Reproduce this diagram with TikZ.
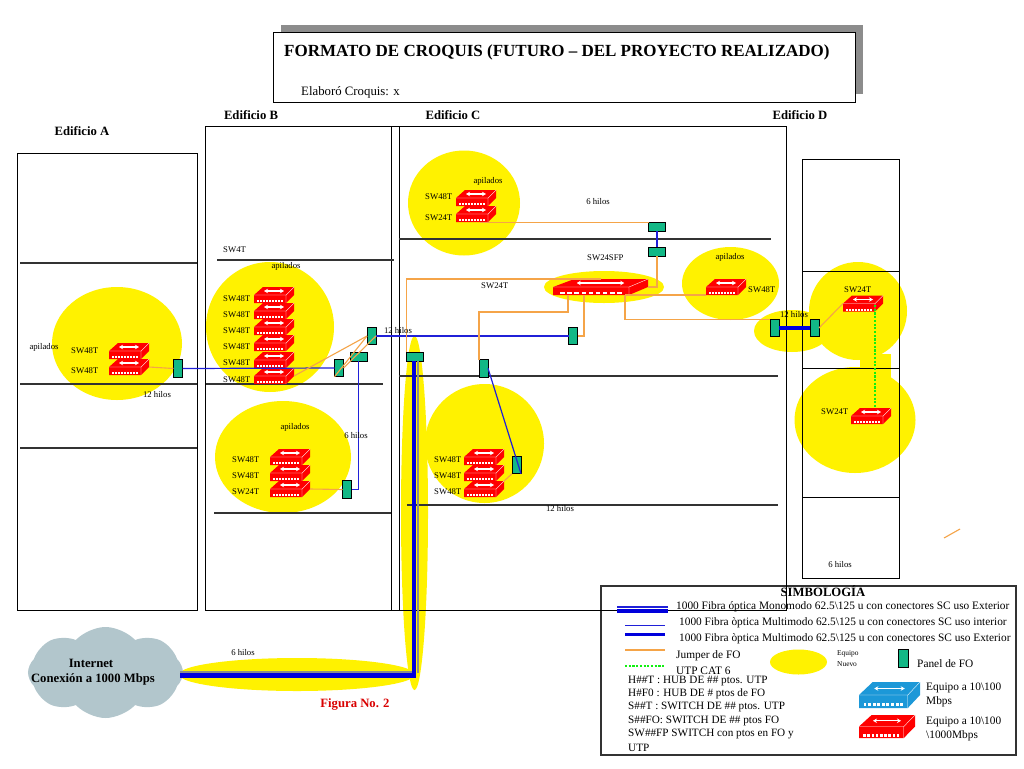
\documentclass[tikz,border=0pt]{standalone}
\usepackage{fontspec}
\setmainfont{Liberation Serif}
\usetikzlibrary{arrows.meta,shapes.symbols,shapes.geometric}
\definecolor{panelc}{HTML}{12B886}
\definecolor{jump}{HTML}{F5A448}
\definecolor{fibre}{HTML}{0000DC}
\definecolor{thinb}{HTML}{2020D8}
\definecolor{cloudc}{HTML}{B2C6CC}
\definecolor{sw blue}{HTML}{1C98D8}
\definecolor{shadowc}{HTML}{8C8C8C}
\definecolor{utp}{HTML}{10F010}
\tikzset{
 swb/.style n args={3}{rectangle,draw=none,inner sep=0pt,outer sep=0pt,minimum width=#1pt,minimum height=#2pt,
  path picture={
   \begin{scope}[shift={(path picture bounding box.center)},x=#1pt/40,y=-#2pt/16]
    \fill[#3] (-20,0)--(-11,-8)--(20,-8)--(20,0)--(12,8)--(-20,8)--cycle;
    \draw[white,line width=.35pt] (-20,0)--(12,0)--(20,-8) (12,0)--(12,8);
    \draw[white,line width=1.1pt,{Stealth[length=4pt,width=4.5pt]}-{Stealth[length=4pt,width=4.5pt]}] (-10,-4)--(10,-4);
    \foreach \q in {-17,-14,...,7} {\fill[white] (\q,5) rectangle ++(1.9,2);}
   \end{scope}}},
 sw/.style={swb={40}{16}{red}},
 panelv/.style={rectangle,draw=black,line width=.9pt,fill=panelc,inner sep=0pt,outer sep=0pt,minimum width=9pt,minimum height=17.5pt},
 panelh/.style={panelv,minimum width=17pt,minimum height=9pt},
 zone/.style={fill=yellow,draw=none},
 bldg/.style={draw=black,line width=.9pt},
 floorl/.style={draw=black!80,line width=1.1pt},
 jumper/.style={draw=jump,line width=1.1pt},
 thinf/.style={draw=thinb,line width=1.2pt},
 fib/.style={draw=fibre,line width=4.4pt},
 graylin/.style={draw=black!45,line width=2pt},
 utpl/.style={draw=utp,line width=2.8pt,dash pattern=on 2.2pt off 1.5pt},
 sm/.style={inner sep=0pt,yshift=-.8pt,font=\fontsize{8.7}{10}\selectfont},
 smL/.style={sm,anchor=west},
 bld/.style={inner sep=0pt,font=\fontsize{12.7}{14}\selectfont\bfseries},
 leg/.style={inner sep=0pt,anchor=west,yshift=-1pt,font=\fontsize{11.35}{13}\selectfont},
 legh/.style={leg,font=\fontsize{11.2}{13}\selectfont},
}
\begin{document}
\begin{tikzpicture}[x=1pt,y=-1pt]
\useasboundingbox (0,0) rectangle (1024,768);
\fill[white] (0,0) rectangle (1024,768);
% title
\fill[shadowc] (281,25) rectangle (863,94);
\node[draw=black,line width=1pt,fill=white,inner sep=0pt,minimum width=582pt,minimum height=69pt] (titlebox) at (564,67.5) {};
\node[inner sep=0pt,anchor=west,font=\fontsize{17}{20}\selectfont\bfseries] (title) at (284,52) {FORMATO DE CROQUIS (FUTURO – DEL PROYECTO REALIZADO)};
\node[inner sep=0pt,anchor=west,font=\fontsize{12.8}{15}\selectfont] (elab) at (301,92) {Elaboró Croquis: x};
% yellow zones
\node[zone,ellipse,minimum width=130pt,minimum height=113pt] (za) at (117,343.5) {};
\node[zone,ellipse,minimum width=128pt,minimum height=130pt] (zb1) at (270,327) {};
\node[zone,ellipse,minimum width=136pt,minimum height=112pt] (zb2) at (283,457) {};
\node[zone,ellipse,minimum width=112pt,minimum height=105pt] (zc1) at (464,203) {};
\node[zone,ellipse,minimum width=119pt,minimum height=119pt] (zc2) at (484.5,443.5) {};
\node[zone,ellipse,minimum width=120pt,minimum height=32pt] (zsfp) at (604,287) {};
\node[zone,ellipse,minimum width=97pt,minimum height=73pt] (zr) at (730.5,283.5) {};
\node[zone,ellipse,minimum width=27pt,minimum height=354pt] (zv) at (414.5,513) {};
\node[zone,ellipse,minimum width=236pt,minimum height=33pt] (zh) at (297,674.5) {};
\node[zone,ellipse,minimum width=98pt,minimum height=98pt] (zd1) at (858,311) {};
\node[zone,ellipse,minimum width=121pt,minimum height=106pt] (zd2) at (855,420) {};
\node[zone,ellipse,minimum width=76pt,minimum height=42pt] (zd3) at (792,331) {};
\node[zone,rectangle,minimum width=31pt,minimum height=24pt] (zd4) at (875,366) {};
% legend frame
\node[draw=black!80,line width=1.2pt,inner sep=0pt,minimum width=415pt,minimum height=169pt] (legbox) at (808.5,670.5) {};
% buildings
\draw[bldg] (17,153) rectangle (197,610);
\draw[bldg] (205,126) rectangle (786,610);
\draw[bldg] (391,126)--(391,610) (399,126)--(399,610);
\draw[bldg] (802,159) rectangle (899,578);
% floors
\draw[floorl] (20,263)--(197,263) (20,384)--(197,384) (20,448)--(197,448);
\draw[floorl] (217,260)--(394,260) (206,384)--(383,384) (214,513)--(391,513);
\draw[floorl] (399,239)--(771,239) (399,376)--(778,376) (407,505)--(778,505);
\draw[bldg] (802,271)--(899,271) (802,368)--(899,368) (802,497)--(899,497);
% cloud
\node[cloud,cloud puffs=8,cloud puff arc=95,aspect=1.7,fill=cloudc,draw=none,inner sep=0pt,minimum width=155pt,minimum height=91pt] (inet) at (105.5,672.5) {};
% switches
\node[sw] (sa1) at (129,351) {};
\node[sw] (sa2) at (129,367) {};
\foreach \y [count=\i] in {295,311,327,343,360,376} {\node[sw] (sb\i) at (274,\y) {};}
\foreach \y [count=\i] in {457,473,489} {\node[sw] (sc\i) at (290,\y) {};}
\node[sw] (sd1) at (476,198) {};
\node[sw] (sd2) at (476,214) {};
\foreach \y [count=\i] in {457,473,489} {\node[sw] (se\i) at (484,\y) {};}
\node[swb={95}{16}{red}] (sfp) at (600.5,287) {};
\node[sw] (sr) at (726,287) {};
\node[sw] (sf1) at (863,303.5) {};
\node[sw] (sf2) at (871,416) {};
\node[swb={61}{26}{sw blue}] (lblue) at (889.5,695) {};
\node[swb={56}{23}{red}] (lred) at (887,726.5) {};
% panels
\node[panelv] (pa) at (178,368.5) {};
\node[panelv] (pb1) at (339,368) {};
\node[panelh] (pb2) at (358.5,356.5) {};
\node[panelv] (pb3) at (371.5,336) {};
\node[panelh] (pbig) at (415,356.5) {};
\node[panelv] (pc1) at (573,336) {};
\node[panelv] (pc2) at (483.5,368.5) {};
\node[panelh] (pt1) at (657,226.5) {};
\node[panelh] (pt2) at (657,251.5) {};
\node[panelv] (pc3) at (516.5,465) {};
\node[panelv] (pb4) at (347,489.5) {};
\node[panelv] (pd1) at (774.5,328) {};
\node[panelv] (pd2) at (814.5,328) {};
\node[panelv,minimum width=10pt,minimum height=18pt] (plg) at (903,658) {};
% free ends
\coordinate (sfpr) at (625,295);
\coordinate (gt) at (875,305);
\coordinate (gb) at (875,408);
\coordinate (stubA) at (944,538);
\coordinate (stubB) at (960,529);
\coordinate (cb) at (180,675.5);
\coordinate (cg) at (180,671.5);
\coordinate (vb) at (414,675.5);
\coordinate (vbt) at (414,361);
\coordinate (vgt) at (418,361);
\coordinate (vge) at (418,673);
\coordinate (hge) at (412,671.5);
% connectors thin blue
\draw[thinf] (pa.east)--(pb1.west);
\draw[thinf] (pb3.east)--(pc1.west);
\draw[thinf] (pb2.south)|-(pb4.east);
\draw[thinf] (pt1.south)--(pt2.north);
\draw[thinf] (pc2.north east)++(0,8.5)--(pc3.south east);
% thick
\draw[draw=fibre,line width=3.2pt] (pd1.east)--(pd2.west);
\draw[graylin] (cg)--(hge) (vgt)--(vge);
\draw[fib,line join=miter] (vbt)--(vb)--(cb);
% jumpers
\draw[jumper] (sd2.south)++(4,0.5)--(pt1.west|-0,222.5);
\draw[jumper] (pt2.south)|-(sfp.east);
\draw[jumper] (pbig.north west)|-(sfp.north);
\draw[jumper] (pc2.north west)|-(568,312)--(568,295);
\draw[jumper] (pc1.east)-|(584,295);
\draw[jumper] (sfpr)--(sr.south west);
\draw[jumper] (sfpr)|-(pd1.north west);
\draw[jumper] (pd2.east)--(sf1.west);
\draw[jumper] (sa2.east)--(pa.west);
\draw[jumper] (sc3.east)--(pb4.west);
\draw[jumper] (sb6.east)--(pb3.west);
\draw[jumper] (pb1.south west)--(pb3.west);
\draw[jumper] (pb1.east)--(pb3.east);
\draw[jumper] (pc3.south west)--(se3.north east);
\draw[jumper] (stubA)--(stubB);
\draw[utpl] (gt)--(gb);
% building titles
\node[bld] (ea) at (82,131) {Edificio A};
\node[bld] (eb) at (251,115) {Edificio B};
\node[bld] (ec) at (453,115) {Edificio C};
\node[bld] (ed) at (800,115) {Edificio D};
% switch labels
\foreach \x/\y/\t [count=\i] in {
 71/350/SW48T,71/370/SW48T,
 223/298/SW48T,223/314/SW48T,223/330/SW48T,223/346/SW48T,223/362/SW48T,223/379/SW48T,
 232/459/SW48T,232/475/SW48T,232/491/SW24T,
 425/196/SW48T,425/217/SW24T,
 434/459/SW48T,434/475/SW48T,434/491/SW48T,
 223/249/SW4T,481/285/SW24T,587/257/SW24SFP,748/289/SW48T,844/289/SW24T,821/411/SW24T}
 {\node[smL] (sl\i) at (\x,\y) {\t};}
% other small labels
\foreach \x/\y/\t [count=\i] in {
 44/347/apilados,286/266/apilados,295/427/apilados,488/181/apilados,730/257/apilados,
 157/394/12 hilos,398/330/12 hilos,794/314/12 hilos,560/508/12 hilos,
 356/435/6 hilos,598/201/6 hilos,840/564/6 hilos,243/652/6 hilos}
 {\node[sm] (ol\i) at (\x,\y) {\t};}
% cloud text
\node[bld] (it1) at (91,663.5) {Internet};
\node[bld] (it2) at (93,679) {Conexión a 1000 Mbps};
\node[bld,text=red!85!black] (fig) at (355,704) {Figura No. 2};
% legend
\node[bld] (simb) at (823,591) {SIMBOLOGÍA};
\node[leg] (t1) at (676,606) {1000 Fibra óptica Monomodo 62.5\textbackslash 125 u con conectores SC uso Exterior};
\node[leg] (t2) at (679,622) {1000 Fibra òptica Multimodo 62.5\textbackslash 125 u con conectores SC uso interior};
\node[leg] (t3) at (679,638) {1000 Fibra òptica Multimodo 62.5\textbackslash 125 u con conectores SC uso Exterior};
\node[leg] (t4) at (676,655) {Jumper de FO};
\node[leg] (t5) at (676,670) {UTP CAT 6};
\foreach \y/\t [count=\i] in {680/H\#\#T : HUB DE \#\# ptos. UTP,693/H\#F0 : HUB DE \# ptos de FO,706/S\#\#T : SWITCH DE \#\# ptos. UTP,720/S\#\#FO: SWITCH DE \#\# ptos FO,733/SW\#\#FP SWITCH con ptos en FO y,747/UTP}
 {\node[legh] (h\i) at (628,\y) {\t};}
\node[zone,ellipse,minimum width=57pt,minimum height=25pt] (lz) at (798.5,662) {};
\node[sm,anchor=west,font=\fontsize{7.4}{9}\selectfont] (ln1) at (837,653) {Equipo};
\node[sm,anchor=west,font=\fontsize{7.4}{9}\selectfont] (ln2) at (837,663) {Nuevo};
\node[leg] (lp) at (917,663) {Panel de FO};
\node[leg] (e1) at (926,687) {Equipo a 10\textbackslash 100};
\node[leg] (e2) at (926,701) {Mbps};
\node[leg] (e3) at (926,721) {Equipo a 10\textbackslash 100};
\node[leg] (e4) at (926,735) {\textbackslash 1000Mbps};
\coordinate (la1) at (617,607); \coordinate (la2) at (668,607);
\coordinate (lb1) at (617,611); \coordinate (lb2) at (668,611);
\coordinate (lc1) at (625,625.5); \coordinate (lc2) at (665,625.5);
\coordinate (ld1) at (625,634); \coordinate (ld2) at (665,634);
\coordinate (le1) at (625,650); \coordinate (le2) at (665,650);
\coordinate (lf1) at (625,666); \coordinate (lf2) at (665,666);
\draw[thinf] (la1)--(la2);
\draw[draw=fibre,line width=4pt] (lb1)--(lb2);
\draw[thinf] (lc1)--(lc2);
\draw[draw=fibre,line width=3pt] (ld1)--(ld2);
\draw[jumper] (le1)--(le2);
\draw[utpl] (lf1)--(lf2);
\end{tikzpicture}
\end{document}
